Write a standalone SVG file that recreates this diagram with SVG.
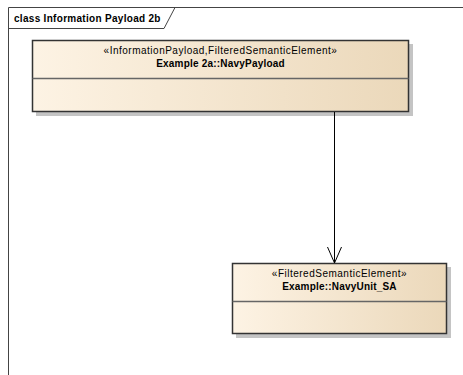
<svg xmlns="http://www.w3.org/2000/svg" width="463" height="375" viewBox="0 0 463 375">
<defs>
<linearGradient id="fill" x1="0" y1="0" x2="1" y2="0">
<stop offset="0" stop-color="#FDF3E4"/>
<stop offset="1" stop-color="#EBD8BA"/>
</linearGradient>
<style>
.frame{fill:none;stroke:#444;stroke-width:1}
.shadow{fill:#C4C4C4}
.box{fill:url(#fill);stroke:#333;stroke-width:1.5}
.div{stroke:#666;stroke-width:1.5}
.ster{font-family:"Liberation Sans",Arial,sans-serif;font-size:10px;letter-spacing:0.5px;fill:#000;text-anchor:middle}
.name{font-family:"Liberation Sans",Arial,sans-serif;font-size:10px;font-weight:bold;letter-spacing:0.2px;fill:#000;text-anchor:middle}
.title{font-family:"Liberation Sans",Arial,sans-serif;font-size:10px;font-weight:bold;letter-spacing:0.3px;fill:#000}
.conn{fill:none;stroke:#000;stroke-width:1}
</style>
</defs>
<rect width="463" height="375" fill="#fff"/>
<g id="frame">
<path class="frame" d="M8.5,375 V7.5 H463"/>
<path class="frame" d="M8.5,28.5 H164 L175,7.5"/>
<text class="title" x="14" y="22">class Information Payload 2b</text>
</g>
<g id="node-navypayload">
<rect class="shadow" x="36" y="44" width="377" height="72"/>
<rect class="box" x="32.5" y="40.5" width="376" height="71"/>
<line class="div" x1="32.5" y1="78.5" x2="408.5" y2="78.5"/>
<text class="ster" x="220.5" y="54">«InformationPayload,FilteredSemanticElement»</text>
<text class="name" x="220.5" y="67">Example 2a::NavyPayload</text>
</g>
<g id="node-navyunit">
<rect class="shadow" x="236" y="267" width="215" height="71"/>
<rect class="box" x="232.5" y="263.5" width="214" height="70"/>
<line class="div" x1="232.5" y1="301.5" x2="446.5" y2="301.5"/>
<text class="ster" x="339.5" y="277">«FilteredSemanticElement»</text>
<text class="name" x="339.5" y="290">Example::NavyUnit_SA</text>
</g>
<g id="connectors">
<line class="conn" x1="334.5" y1="112" x2="334.5" y2="263"/>
<polyline class="conn" points="327.5,247 334.5,263 341.5,247"/>
</g>
</svg>
